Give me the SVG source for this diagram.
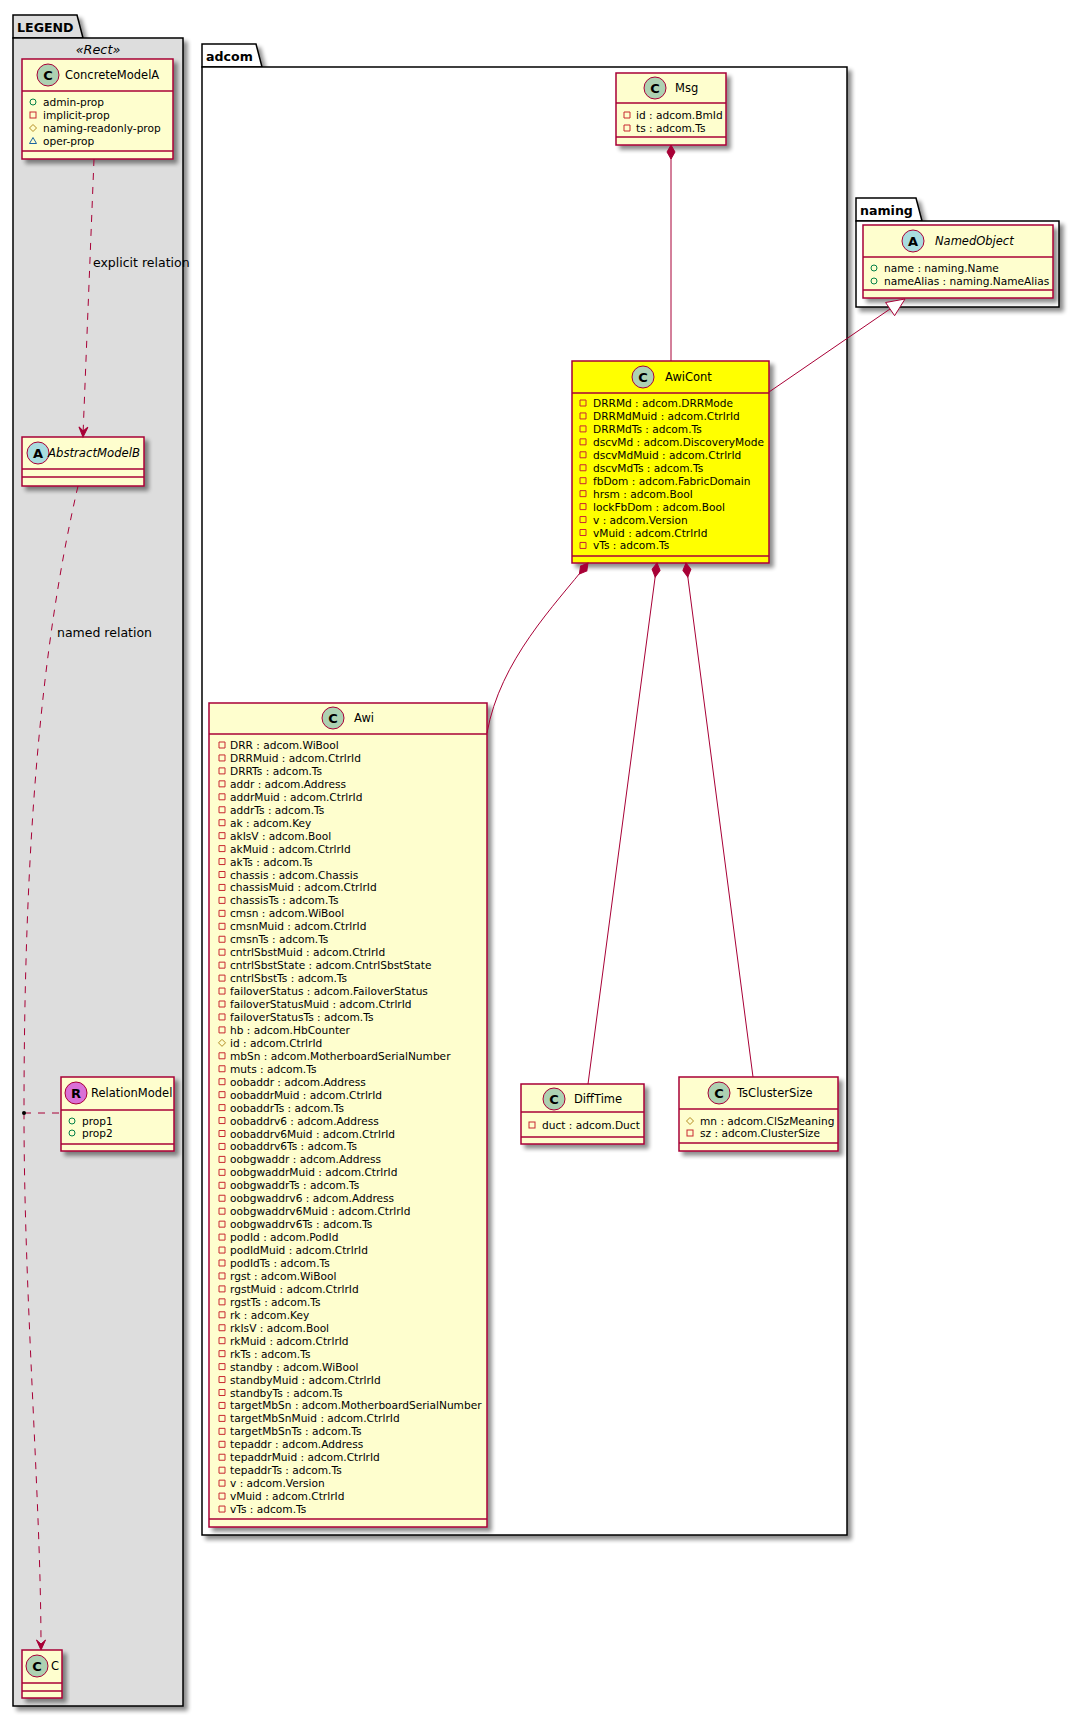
<svg xmlns="http://www.w3.org/2000/svg" xmlns:xlink="http://www.w3.org/1999/xlink" width="1082" height="1717" viewBox="0 0 1082 1717">
<defs>
<filter id="sh" x="-10%" y="-10%" width="130%" height="130%">
<feGaussianBlur in="SourceAlpha" stdDeviation="2"/>
<feOffset dx="4" dy="4" result="o"/>
<feComponentTransfer><feFuncA type="linear" slope="0.45"/></feComponentTransfer>
<feMerge><feMergeNode/><feMergeNode in="SourceGraphic"/></feMerge>
</filter>
<path id="dia" d="M0,0 L7,-4 L14,0 L7,4 Z"/>
<path id="arr" d="M0,0 L-10,-4.5 L-6,0 L-10,4.5 Z"/>
<style>
text{font-family:"DejaVu Sans","Liberation Sans",sans-serif;fill:#000}
.cls{fill:#FEFECE;stroke:#A80036;stroke-width:1.5}
.sep{stroke:#A80036;stroke-width:1.5}
.name{font-size:11.5px}
.it{font-style:italic}
.st{font-size:12.8px;font-style:italic}
.attr{font-size:10.6px}
.spot{stroke:#A80036;stroke-width:1}
.spotl{font-size:13px;font-weight:bold;text-anchor:middle}
.priv{fill:none;stroke:#C82930;stroke-width:1}
.pub{fill:none;stroke:#038048;stroke-width:1}
.prot{fill:none;stroke:#B38D22;stroke-width:1}
.pkgv{fill:none;stroke:#1963A0;stroke-width:1}
.pkg{stroke:#000;stroke-width:1.5}
.pkgt{font-size:12.6px;font-weight:bold}
.edge{fill:none;stroke:#A80036;stroke-width:1}
.dash{stroke-dasharray:7,7}
.head{fill:#A80036;stroke:#A80036;stroke-width:1}
.lbl{font-size:12.5px}
</style>
</defs>
<rect width="1082" height="1717" fill="#FFFFFF"/>

<g id="pkg-legend">
<g filter="url(#sh)">
<polygon class="pkg" points="13,38 13,15 77,15 83,38" fill="#DDDDDD"/>
<rect class="pkg" x="13" y="38" width="170" height="1668" fill="#DDDDDD"/>
</g>
<text class="pkgt" x="17" y="32">LEGEND</text>
<text class="st" x="98" y="54" text-anchor="middle">«Rect»</text>
</g>

<g id="pkg-adcom">
<g filter="url(#sh)">
<polygon class="pkg" points="202,67 202,44 256,44 262,67" fill="#FFFFFF"/>
<rect class="pkg" x="202" y="67" width="645" height="1468" fill="#FFFFFF"/>
</g>
<text class="pkgt" x="206" y="61">adcom</text>
</g>

<g id="pkg-naming">
<g filter="url(#sh)">
<polygon class="pkg" points="856,221 856,198 916,198 922,221" fill="#FFFFFF"/>
<rect class="pkg" x="856" y="221" width="203" height="86" fill="#FFFFFF"/>
</g>
<text class="pkgt" x="860" y="215">naming</text>
</g>

<g id="ConcreteModelA">
<rect class="cls" x="22" y="59" width="151" height="100" filter="url(#sh)"/>
<line class="sep" x1="22" y1="91" x2="173" y2="91"/>
<line class="sep" x1="22" y1="151" x2="173" y2="151"/>
<circle class="spot" cx="48" cy="75" r="11" fill="#ADD1B2"/>
<text class="spotl" x="48" y="79.5">C</text>
<text class="name" x="65" y="79">ConcreteModelA</text>
<circle class="pub" cx="33" cy="102" r="3"/>
<rect class="priv" x="30" y="112" width="6" height="6"/>
<path class="prot" d="M33,124.5 l3.5,3.5 l-3.5,3.5 l-3.5,-3.5 z"/>
<path class="pkgv" d="M33,137.5 L36.5,143.5 L29.5,143.5 Z"/>
<text class="attr" x="43" y="106">admin-prop</text>
<text class="attr" x="43" y="119">implicit-prop</text>
<text class="attr" x="43" y="132">naming-readonly-prop</text>
<text class="attr" x="43" y="145">oper-prop</text>
</g>

<g id="AbstractModelB">
<rect class="cls" x="22" y="437" width="122" height="49" filter="url(#sh)"/>
<line class="sep" x1="22" y1="469" x2="144" y2="469"/>
<line class="sep" x1="22" y1="477" x2="144" y2="477"/>
<circle class="spot" cx="38" cy="453" r="11" fill="#A9DCDF"/>
<text class="spotl" x="38" y="457.5">A</text>
<text class="name it" x="48" y="457" textLength="92" lengthAdjust="spacingAndGlyphs">AbstractModelB</text>
</g>

<g id="RelationModel">
<rect class="cls" x="61" y="1077" width="113" height="74" filter="url(#sh)"/>
<line class="sep" x1="61" y1="1110" x2="174" y2="1110"/>
<line class="sep" x1="61" y1="1144" x2="174" y2="1144"/>
<circle class="spot" cx="76" cy="1093" r="11" fill="#DA70D6"/>
<text class="spotl" x="76" y="1097.5">R</text>
<text class="name" x="91" y="1097">RelationModel</text>
<circle class="pub" cx="72" cy="1121" r="3"/>
<circle class="pub" cx="72" cy="1133" r="3"/>
<text class="attr" x="82" y="1125">prop1</text>
<text class="attr" x="82" y="1137">prop2</text>
</g>

<g id="C">
<rect class="cls" x="22" y="1650" width="40" height="48" filter="url(#sh)"/>
<line class="sep" x1="22" y1="1683" x2="62" y2="1683"/>
<line class="sep" x1="22" y1="1691" x2="62" y2="1691"/>
<circle class="spot" cx="37" cy="1666" r="11" fill="#ADD1B2"/>
<text class="spotl" x="37" y="1670.5">C</text>
<text class="name" x="51" y="1670">C</text>
</g>

<g id="Msg">
<rect class="cls" x="616" y="73" width="110" height="72" filter="url(#sh)"/>
<line class="sep" x1="616" y1="103" x2="726" y2="103"/>
<line class="sep" x1="616" y1="137" x2="726" y2="137"/>
<circle class="spot" cx="655" cy="88" r="11" fill="#ADD1B2"/>
<text class="spotl" x="655" y="92.5">C</text>
<text class="name" x="675" y="92">Msg</text>
<path class="priv" d="M624,112h6v6h-6z m0,13h6v6h-6z"/>
<text class="attr" x="636" y="119">id : adcom.BmId</text>
<text class="attr" x="636" y="132">ts : adcom.Ts</text>
</g>

<g id="AwiCont">
<rect class="cls" x="572" y="361" width="197" height="202" fill="#FFFF00" style="fill:#FFFF00" filter="url(#sh)"/>
<line class="sep" x1="572" y1="393" x2="769" y2="393"/>
<line class="sep" x1="572" y1="556" x2="769" y2="556"/>
<circle class="spot" cx="643" cy="377" r="11" fill="#ADD1B2"/>
<text class="spotl" x="643" y="381.5">C</text>
<text class="name" x="665" y="381">AwiCont</text>
<path class="priv" d="M580,400h6v6h-6z m0,12.95h6v6h-6z m0,12.95h6v6h-6z m0,12.95h6v6h-6z m0,12.95h6v6h-6z m0,12.95h6v6h-6z m0,12.95h6v6h-6z m0,12.95h6v6h-6z m0,12.95h6v6h-6z m0,12.95h6v6h-6z m0,12.95h6v6h-6z m0,12.95h6v6h-6z"/>
<text class="attr" x="593" y="407">
<tspan x="593">DRRMd : adcom.DRRMode</tspan>
<tspan x="593" dy="12.95">DRRMdMuid : adcom.CtrlrId</tspan>
<tspan x="593" dy="12.95">DRRMdTs : adcom.Ts</tspan>
<tspan x="593" dy="12.95">dscvMd : adcom.DiscoveryMode</tspan>
<tspan x="593" dy="12.95">dscvMdMuid : adcom.CtrlrId</tspan>
<tspan x="593" dy="12.95">dscvMdTs : adcom.Ts</tspan>
<tspan x="593" dy="12.95">fbDom : adcom.FabricDomain</tspan>
<tspan x="593" dy="12.95">hrsm : adcom.Bool</tspan>
<tspan x="593" dy="12.95">lockFbDom : adcom.Bool</tspan>
<tspan x="593" dy="12.95">v : adcom.Version</tspan>
<tspan x="593" dy="12.95">vMuid : adcom.CtrlrId</tspan>
<tspan x="593" dy="12.95">vTs : adcom.Ts</tspan>
</text>
</g>

<g id="Awi">
<rect class="cls" x="209" y="703" width="278" height="824" filter="url(#sh)"/>
<line class="sep" x1="209" y1="734" x2="487" y2="734"/>
<line class="sep" x1="209" y1="1519" x2="487" y2="1519"/>
<circle class="spot" cx="333" cy="718" r="11" fill="#ADD1B2"/>
<text class="spotl" x="333" y="722.5">C</text>
<text class="name" x="354" y="722">Awi</text>
<path class="priv" d="M219,742h6v6h-6z m0,12.95h6v6h-6z m0,12.95h6v6h-6z m0,12.95h6v6h-6z m0,12.95h6v6h-6z m0,12.95h6v6h-6z m0,12.95h6v6h-6z m0,12.95h6v6h-6z m0,12.95h6v6h-6z m0,12.95h6v6h-6z m0,12.95h6v6h-6z m0,12.95h6v6h-6z m0,12.95h6v6h-6z m0,12.95h6v6h-6z m0,12.95h6v6h-6z m0,12.95h6v6h-6z m0,12.95h6v6h-6z m0,12.95h6v6h-6z m0,12.95h6v6h-6z m0,12.95h6v6h-6z m0,12.95h6v6h-6z m0,12.95h6v6h-6z m0,12.95h6v6h-6z m0,25.9h6v6h-6z m0,12.95h6v6h-6z m0,12.95h6v6h-6z m0,12.95h6v6h-6z m0,12.95h6v6h-6z m0,12.95h6v6h-6z m0,12.95h6v6h-6z m0,12.95h6v6h-6z m0,12.95h6v6h-6z m0,12.95h6v6h-6z m0,12.95h6v6h-6z m0,12.95h6v6h-6z m0,12.95h6v6h-6z m0,12.95h6v6h-6z m0,12.95h6v6h-6z m0,12.95h6v6h-6z m0,12.95h6v6h-6z m0,12.95h6v6h-6z m0,12.95h6v6h-6z m0,12.95h6v6h-6z m0,12.95h6v6h-6z m0,12.95h6v6h-6z m0,12.95h6v6h-6z m0,12.95h6v6h-6z m0,12.95h6v6h-6z m0,12.95h6v6h-6z m0,12.95h6v6h-6z m0,12.95h6v6h-6z m0,12.95h6v6h-6z m0,12.95h6v6h-6z m0,12.95h6v6h-6z m0,12.95h6v6h-6z m0,12.95h6v6h-6z m0,12.95h6v6h-6z m0,12.95h6v6h-6z m0,12.95h6v6h-6z"/>
<path class="prot" d="M222,1039.35 l3.5,3.5 l-3.5,3.5 l-3.5,-3.5 z"/>
<text class="attr" x="230" y="749">
<tspan x="230">DRR : adcom.WiBool</tspan>
<tspan x="230" dy="12.95">DRRMuid : adcom.CtrlrId</tspan>
<tspan x="230" dy="12.95">DRRTs : adcom.Ts</tspan>
<tspan x="230" dy="12.95">addr : adcom.Address</tspan>
<tspan x="230" dy="12.95">addrMuid : adcom.CtrlrId</tspan>
<tspan x="230" dy="12.95">addrTs : adcom.Ts</tspan>
<tspan x="230" dy="12.95">ak : adcom.Key</tspan>
<tspan x="230" dy="12.95">akIsV : adcom.Bool</tspan>
<tspan x="230" dy="12.95">akMuid : adcom.CtrlrId</tspan>
<tspan x="230" dy="12.95">akTs : adcom.Ts</tspan>
<tspan x="230" dy="12.95">chassis : adcom.Chassis</tspan>
<tspan x="230" dy="12.95">chassisMuid : adcom.CtrlrId</tspan>
<tspan x="230" dy="12.95">chassisTs : adcom.Ts</tspan>
<tspan x="230" dy="12.95">cmsn : adcom.WiBool</tspan>
<tspan x="230" dy="12.95">cmsnMuid : adcom.CtrlrId</tspan>
<tspan x="230" dy="12.95">cmsnTs : adcom.Ts</tspan>
<tspan x="230" dy="12.95">cntrlSbstMuid : adcom.CtrlrId</tspan>
<tspan x="230" dy="12.95">cntrlSbstState : adcom.CntrlSbstState</tspan>
<tspan x="230" dy="12.95">cntrlSbstTs : adcom.Ts</tspan>
<tspan x="230" dy="12.95">failoverStatus : adcom.FailoverStatus</tspan>
<tspan x="230" dy="12.95">failoverStatusMuid : adcom.CtrlrId</tspan>
<tspan x="230" dy="12.95">failoverStatusTs : adcom.Ts</tspan>
<tspan x="230" dy="12.95">hb : adcom.HbCounter</tspan>
<tspan x="230" dy="12.95">id : adcom.CtrlrId</tspan>
<tspan x="230" dy="12.95">mbSn : adcom.MotherboardSerialNumber</tspan>
<tspan x="230" dy="12.95">muts : adcom.Ts</tspan>
<tspan x="230" dy="12.95">oobaddr : adcom.Address</tspan>
<tspan x="230" dy="12.95">oobaddrMuid : adcom.CtrlrId</tspan>
<tspan x="230" dy="12.95">oobaddrTs : adcom.Ts</tspan>
<tspan x="230" dy="12.95">oobaddrv6 : adcom.Address</tspan>
<tspan x="230" dy="12.95">oobaddrv6Muid : adcom.CtrlrId</tspan>
<tspan x="230" dy="12.95">oobaddrv6Ts : adcom.Ts</tspan>
<tspan x="230" dy="12.95">oobgwaddr : adcom.Address</tspan>
<tspan x="230" dy="12.95">oobgwaddrMuid : adcom.CtrlrId</tspan>
<tspan x="230" dy="12.95">oobgwaddrTs : adcom.Ts</tspan>
<tspan x="230" dy="12.95">oobgwaddrv6 : adcom.Address</tspan>
<tspan x="230" dy="12.95">oobgwaddrv6Muid : adcom.CtrlrId</tspan>
<tspan x="230" dy="12.95">oobgwaddrv6Ts : adcom.Ts</tspan>
<tspan x="230" dy="12.95">podId : adcom.PodId</tspan>
<tspan x="230" dy="12.95">podIdMuid : adcom.CtrlrId</tspan>
<tspan x="230" dy="12.95">podIdTs : adcom.Ts</tspan>
<tspan x="230" dy="12.95">rgst : adcom.WiBool</tspan>
<tspan x="230" dy="12.95">rgstMuid : adcom.CtrlrId</tspan>
<tspan x="230" dy="12.95">rgstTs : adcom.Ts</tspan>
<tspan x="230" dy="12.95">rk : adcom.Key</tspan>
<tspan x="230" dy="12.95">rkIsV : adcom.Bool</tspan>
<tspan x="230" dy="12.95">rkMuid : adcom.CtrlrId</tspan>
<tspan x="230" dy="12.95">rkTs : adcom.Ts</tspan>
<tspan x="230" dy="12.95">standby : adcom.WiBool</tspan>
<tspan x="230" dy="12.95">standbyMuid : adcom.CtrlrId</tspan>
<tspan x="230" dy="12.95">standbyTs : adcom.Ts</tspan>
<tspan x="230" dy="12.95">targetMbSn : adcom.MotherboardSerialNumber</tspan>
<tspan x="230" dy="12.95">targetMbSnMuid : adcom.CtrlrId</tspan>
<tspan x="230" dy="12.95">targetMbSnTs : adcom.Ts</tspan>
<tspan x="230" dy="12.95">tepaddr : adcom.Address</tspan>
<tspan x="230" dy="12.95">tepaddrMuid : adcom.CtrlrId</tspan>
<tspan x="230" dy="12.95">tepaddrTs : adcom.Ts</tspan>
<tspan x="230" dy="12.95">v : adcom.Version</tspan>
<tspan x="230" dy="12.95">vMuid : adcom.CtrlrId</tspan>
<tspan x="230" dy="12.95">vTs : adcom.Ts</tspan>
</text>
</g>

<g id="DiffTime">
<rect class="cls" x="521" y="1084" width="123" height="60" filter="url(#sh)"/>
<line class="sep" x1="521" y1="1112" x2="644" y2="1112"/>
<line class="sep" x1="521" y1="1137" x2="644" y2="1137"/>
<circle class="spot" cx="554" cy="1099" r="11" fill="#ADD1B2"/>
<text class="spotl" x="554" y="1103.5">C</text>
<text class="name" x="574" y="1103">DiffTime</text>
<rect class="priv" x="529" y="1122" width="6" height="6"/>
<text class="attr" x="542" y="1129">duct : adcom.Duct</text>
</g>

<g id="TsClusterSize">
<rect class="cls" x="679" y="1077" width="159" height="74" filter="url(#sh)"/>
<line class="sep" x1="679" y1="1109" x2="838" y2="1109"/>
<line class="sep" x1="679" y1="1143" x2="838" y2="1143"/>
<circle class="spot" cx="719" cy="1093" r="11" fill="#ADD1B2"/>
<text class="spotl" x="719" y="1097.5">C</text>
<text class="name" x="737" y="1097">TsClusterSize</text>
<path class="prot" d="M690,1117.5 l3.5,3.5 l-3.5,3.5 l-3.5,-3.5 z"/>
<rect class="priv" x="687" y="1130" width="6" height="6"/>
<text class="attr" x="700" y="1125">mn : adcom.ClSzMeaning</text>
<text class="attr" x="700" y="1137">sz : adcom.ClusterSize</text>
</g>

<g id="NamedObject">
<rect class="cls" x="863" y="225" width="190" height="73" filter="url(#sh)"/>
<line class="sep" x1="863" y1="257" x2="1053" y2="257"/>
<line class="sep" x1="863" y1="290" x2="1053" y2="290"/>
<circle class="spot" cx="913" cy="241" r="11" fill="#A9DCDF"/>
<text class="spotl" x="913" y="245.5">A</text>
<text class="name it" x="935" y="245">NamedObject</text>
<circle class="pub" cx="874" cy="268" r="3"/>
<circle class="pub" cx="874" cy="281" r="3"/>
<text class="attr" x="884" y="272">name : naming.Name</text>
<text class="attr" x="884" y="285">nameAlias : naming.NameAlias</text>
</g>

<g id="connectors">
<path class="edge dash" d="M94,159 L83,435"/>
<use href="#arr" class="head" transform="translate(83,437) rotate(92.3)"/>
<text class="lbl" x="93" y="267">explicit relation</text>

<path class="edge dash" d="M78,486 C40,650 24,850 24,1113 C24,1300 41,1500 41,1648"/>
<use href="#arr" class="head" transform="translate(41,1650) rotate(90)"/>
<text class="lbl" x="57" y="637">named relation</text>

<path class="edge dash" d="M24,1113 L61,1113"/>
<circle cx="24" cy="1113" r="2" fill="#000"/>

<path class="edge" d="M671,150 L671,361"/>
<use href="#dia" class="head" transform="translate(671,145) rotate(90)"/>

<path class="edge" d="M588,563 C555,605 500,660 487,733"/>
<use href="#dia" class="head" transform="translate(588,563) rotate(128)"/>

<path class="edge" d="M657,563 L588,1084"/>
<use href="#dia" class="head" transform="translate(657,563) rotate(97.5)"/>

<path class="edge" d="M686,563 L753,1077"/>
<use href="#dia" class="head" transform="translate(686,563) rotate(82.6)"/>

<path class="edge" d="M769,392 L890,309"/>
<polygon class="edge" points="905,299 894.6,315.7 885.6,302.5" fill="#FFFFFF" style="fill:#FFFFFF"/>
</g>
</svg>
